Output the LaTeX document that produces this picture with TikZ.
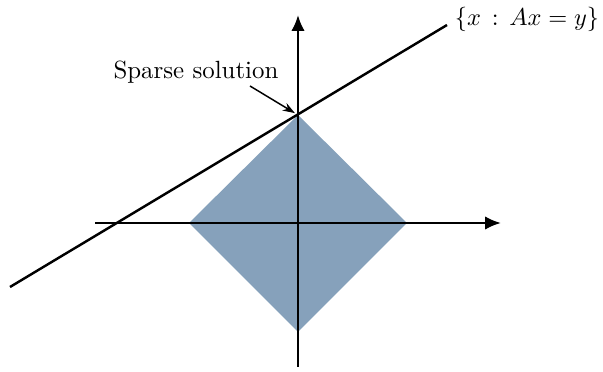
\documentclass[tikz,border=0pt]{standalone}
\usetikzlibrary{arrows.meta}
\definecolor{diafill}{RGB}{134,161,187}
\begin{document}
\begin{tikzpicture}[x=0.41pt,y=-0.41pt,
  axis/.style={line width=1pt,-{Latex[length=6.5pt,width=5.5pt]}},
  lbl/.style={font=\fontsize{10.2}{12}\selectfont}]
\useasboundingbox (0,0) rectangle (603,372);
\coordinate (top) at (298,115);
\coordinate (right) at (407,223);
\coordinate (bot) at (298,332);
\coordinate (left) at (189,223);
\fill[diafill] (top) -- (right) -- (bot) -- (left) -- cycle;
\coordinate (xs) at (95,223);
\coordinate (xe) at (501,223);
\coordinate (ys) at (298,367);
\coordinate (ye) at (298,15);
\draw[axis] (xs) -- (xe);
\draw[axis] (ys) -- (ye);
\coordinate (ls) at (10,287);
\coordinate (le) at (447,25);
\draw[line width=1pt] (ls) -- (le);
\node[lbl] (set) at (527,19) {$\{x\,:\,Ax=y\}$};
\node[lbl] (sparse) at (196,72) {Sparse solution};
\coordinate (as) at (250,86);
\draw[line width=0.6pt,shorten >=1.5pt,-{Stealth[length=5pt,width=3.5pt]}] (as) -- (top);
\end{tikzpicture}
\end{document}
